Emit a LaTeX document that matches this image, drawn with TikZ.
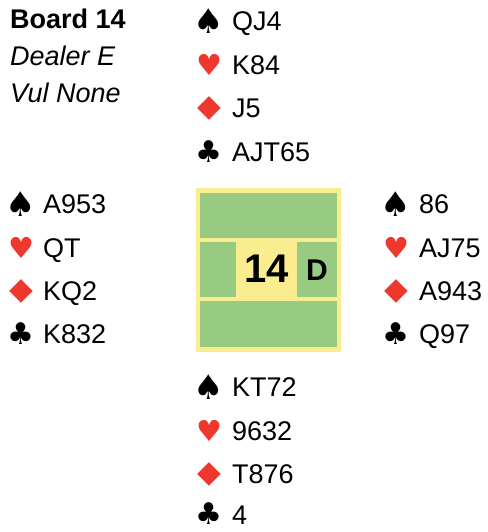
\documentclass[tikz,border=0pt]{standalone}
\usepackage{fontspec}
\setmainfont{Liberation Sans}
\newfontfamily\suitfont{DejaVu Sans}

\definecolor{boardyellow}{RGB}{249,237,143}
\definecolor{boardgreen}{RGB}{151,203,129}
\definecolor{suitred}{RGB}{238,56,46}

\begin{document}
\begin{tikzpicture}[x=1pt, y=-1pt,
  suit/.style={inner sep=0pt},
  spd/.style={suit, font=\suitfont\fontsize{34}{38}\selectfont},
  hrt/.style={suit, text=suitred, font=\suitfont\fontsize{29}{32}\selectfont},
  dmd/.style={suit, text=suitred, font=\suitfont\fontsize{31}{34}\selectfont},
  clb/.style={suit, font=\suitfont\fontsize{30}{34}\selectfont},
  hold/.style={anchor=west, inner sep=0pt, text height=19.4pt, text depth=0pt, font=\fontsize{27}{30}\selectfont},
  info/.style={anchor=west, inner sep=0pt, text height=19.4pt, text depth=0pt, font=\fontsize{27}{30}\selectfont},
  pane/.style={fill=boardgreen}]
\useasboundingbox (0,0) rectangle (487,532);

% board info
\node[info, font=\fontsize{27}{30}\selectfont\bfseries] (board) at (10,19) {Board 14};
\node[info, font=\fontsize{27}{30}\selectfont\itshape] (dealer) at (10,56) {Dealer E};
\node[info, font=\fontsize{27}{30}\selectfont\itshape] (vul) at (10,93) {Vul None};

% North
\begin{scope}[xshift=209pt]
\node[spd] (NS) at (0,21) {♠};
\node[hrt] (NH) at (0,65) {♥};
\node[dmd] (ND) at (0,108) {◆};
\node[clb] (NC) at (0,152) {♣};
\node[hold] (Ns) at (23,21) {QJ4};
\node[hold] (Nh) at (23,65) {K84};
\node[hold] (Nd) at (23,108) {J5};
\node[hold] (Nc) at (23,152) {AJT65};
\end{scope}

% West
\begin{scope}[xshift=21pt]
\node[spd] (WS) at (0,204) {♠};
\node[hrt] (WH) at (0,248) {♥};
\node[dmd] (WD) at (0,291) {◆};
\node[clb] (WC) at (0,334) {♣};
\node[hold] (Ws) at (22,204) {A953};
\node[hold] (Wh) at (22,248) {QT};
\node[hold] (Wd) at (22,291) {KQ2};
\node[hold] (Wc) at (22,334) {K832};
\end{scope}

% East
\begin{scope}[xshift=396pt]
\node[spd] (ES) at (0,204) {♠};
\node[hrt] (EH) at (0,248) {♥};
\node[dmd] (ED) at (0,291) {◆};
\node[clb] (EC) at (0,334) {♣};
\node[hold] (Es) at (23,204) {86};
\node[hold] (Eh) at (23,248) {AJ75};
\node[hold] (Ed) at (23,291) {A943};
\node[hold] (Ec) at (23,334) {Q97};
\end{scope}

% South
\begin{scope}[xshift=209pt]
\node[spd] (SS) at (0,387) {♠};
\node[hrt] (SH) at (0,431) {♥};
\node[dmd] (SD) at (0,474) {◆};
\node[clb] (SC) at (0,514) {♣};
\node[hold] (Ss) at (23,387) {KT72};
\node[hold] (Sh) at (23,431) {9632};
\node[hold] (Sd) at (23,474) {T876};
\node[hold] (Sc) at (23,515) {4};
\end{scope}

% board in the middle
\fill[boardyellow] (196,188) rectangle (341,352);
\fill[pane] (200,193) rectangle (337,238);
\fill[pane] (200,242) rectangle (236,297);
\fill[pane] (297,242) rectangle (337,297);
\fill[pane] (200,301) rectangle (337,347);
\node[inner sep=0pt, font=\fontsize{40}{44}\selectfont\bfseries] (num) at (267,269) {14};
\node[inner sep=0pt, font=\fontsize{30}{34}\selectfont\bfseries] (dlr) at (317,270) {D};
\end{tikzpicture}
\end{document}
